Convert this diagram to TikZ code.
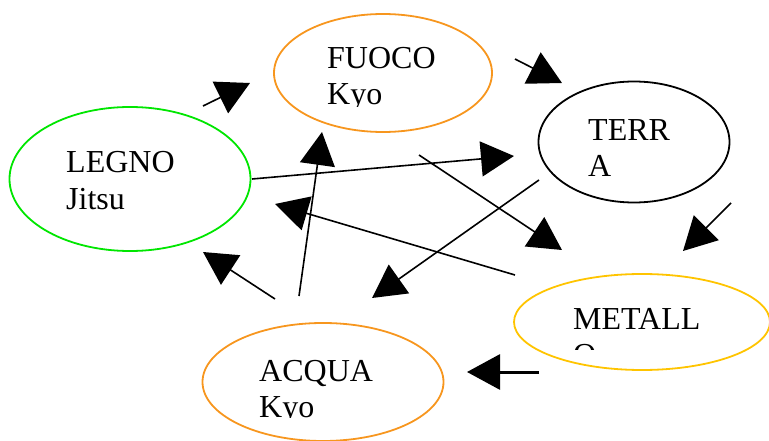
\documentclass[tikz,border=0pt]{standalone}
\usepackage{fontspec}
\setmainfont{Liberation Serif}
\usetikzlibrary{shapes.geometric,arrows.meta}
\definecolor{orng}{RGB}{247,150,30}
\definecolor{grn}{RGB}{0,230,0}
\definecolor{gold}{RGB}{255,196,0}
\tikzset{
  elli/.style={ellipse,draw,line width=1.8pt,inner sep=0pt},
  lbl/.style={anchor=base west,inner sep=0pt,align=left,font=\fontsize{32}{36}\selectfont},
  conn/.style={line width=1.6pt,-{Triangle[length=33pt,width=35pt]}},
}
\begin{document}
\begin{tikzpicture}[x=1pt,y=-1pt]
\useasboundingbox (0,0) rectangle (769,441);
% ellipses
\node[elli,draw=orng,minimum width=218pt,minimum height=118pt] (fuoco) at (383,73) {};
\node[elli,draw=black,minimum width=191pt,minimum height=121pt] (terra) at (634,142) {};
\node[elli,draw=grn,minimum width=241pt,minimum height=144pt] (legno) at (130,179) {};
\node[elli,draw=gold,minimum width=256pt,minimum height=96pt] (metallo) at (642,322) {};
\node[elli,draw=orng,minimum width=241pt,minimum height=118pt] (acqua) at (323,382) {};
% labels (anchor = baseline of the last line)
\begin{scope}
\clip (270,20) rectangle (480,106.5);
\node[lbl] (tfuoco) at (327,105) {FUOCO\\Kyo};
\end{scope}
\node[lbl] (tterra) at (588,177) {TERR\\A};
\node[lbl] (tlegno) at (66,209) {LEGNO\\Jitsu};
\begin{scope}
\clip (560,290) rectangle (760,349);
\node[lbl] (tmetallo) at (573,365) {METALL\\O};
\end{scope}
\begin{scope}
\clip (250,340) rectangle (440,417);
\node[lbl] (tacqua) at (259,417) {ACQUA\\Kyo};
\end{scope}
% connector ends
\coordinate (a1) at (203,106); \coordinate (b1) at (250,83);
\coordinate (a2) at (515,59);  \coordinate (b2) at (562,83);
\coordinate (a3) at (252,179); \coordinate (b3) at (514,156);
\coordinate (a4) at (299,296); \coordinate (b4) at (322,132);
\coordinate (a5) at (419,155); \coordinate (b5) at (562,250);
\coordinate (a6) at (539,180); \coordinate (b6) at (372,298);
\coordinate (a7) at (515,275); \coordinate (b7) at (275,204);
\coordinate (a8) at (731,203); \coordinate (b8) at (683,251);
\coordinate (a9) at (275,299); \coordinate (b9) at (203,252);
\coordinate (a10) at (539,372); \coordinate (b10) at (467,372);
% connectors
\draw[conn] (a1) -- (b1);
\draw[conn] (a2) -- (b2);
\draw[conn] (a3) -- (b3);
\draw[conn] (a4) -- (b4);
\draw[conn] (a5) -- (b5);
\draw[conn] (a6) -- (b6);
\draw[conn] (a7) -- (b7);
\draw[conn] (a8) -- (b8);
\draw[conn] (a9) -- (b9);
\draw[conn,line width=3pt] (a10) -- (b10);
\end{tikzpicture}
\end{document}
